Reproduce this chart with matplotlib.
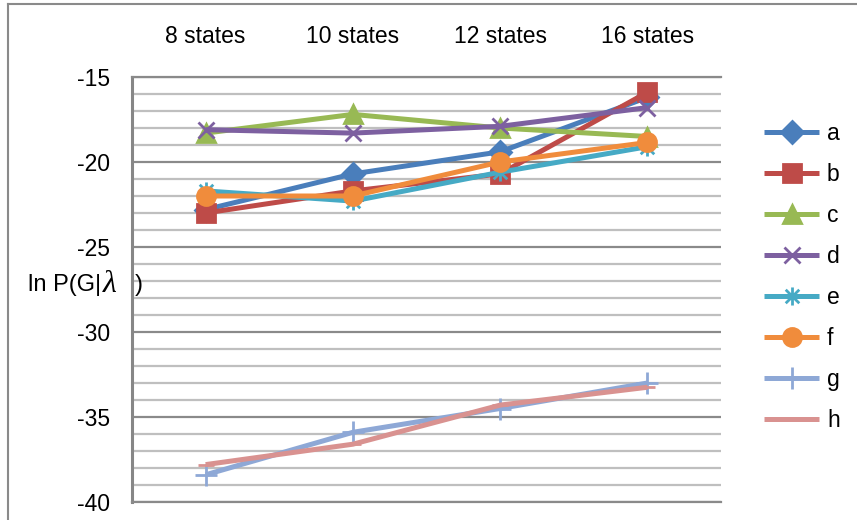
import matplotlib
matplotlib.use("Agg")
import matplotlib.pyplot as plt
from matplotlib.path import Path
from matplotlib.lines import Line2D

plt.rcParams['font.family'] = ['Liberation Sans', 'DejaVu Sans']
plt.rcParams['axes.unicode_minus'] = False

# data
states = ["8 states", "10 states", "12 states", "16 states"]
names = ["a", "b", "c", "d", "e", "f", "g", "h"]
a = [-22.8, -20.7, -19.4, -16.2]
b = [-23.0, -21.7, -20.7, -15.9]
c = [-18.3, -17.2, -18.0, -18.5]
d = [-18.1, -18.3, -17.9, -16.8]
e = [-21.7, -22.3, -20.6, -19.1]
f = [-22.0, -22.0, -20.0, -18.85]
g = [-38.4, -35.9, -34.5, -33.0]
h = [-37.8, -36.6, -34.3, -33.25]
series = [a, b, c, d, e, f, g, h]

# excel-ish style
colors = ["#4A7EBB", "#BE4B48", "#98B954", "#7D60A0",
          "#46AAC5", "#F08C3C", "#8EA8D6", "#D99290"]
star = Path([(0, -1), (0, 1), (-0.75, -0.75), (0.75, 0.75),
             (-0.75, 0.75), (0.75, -0.75)],
            [Path.MOVETO, Path.LINETO] * 3)
markers = ["D", "s", "^", "x", star, "o", "+", "_"]
msizes = [11, 13, 13, 12, 13, 13, 16, 12]

fig = plt.figure(figsize=(8.57, 5.2), dpi=100)
ax = fig.add_axes([132 / 857, 1 - 502 / 520, 589 / 857, 425 / 520])

x = list(range(len(states)))
for i in range(len(series)):
    ax.plot(x, series[i], color=colors[i], lw=3.6, marker=markers[i],
            ms=msizes[i], mew=2, mfc=colors[i], mec=colors[i],
            label=names[i], solid_capstyle='butt')

ax.set_xlim(-0.5, 3.5)
ax.set_ylim(-40, -15)
ax.set_xticks(x)
ax.set_xticklabels(states)
ax.xaxis.tick_top()
ax.tick_params(axis='x', length=0, pad=21, labelsize=16.5)
ax.set_yticks(range(-40, -14, 5))
ax.set_yticks(range(-40, -14, 1), minor=True)
ax.tick_params(axis='y', which='both', length=0, pad=16, labelsize=16.5)
ax.grid(axis='y', which='major', color='#8A8A8A', lw=1.6)
ax.grid(axis='y', which='minor', color='#BFBFBF', lw=1.6)
ax.set_axisbelow(True)

ax.spines['right'].set_visible(False)
for s in ['top', 'bottom']:
    ax.spines[s].set_color('#8A8A8A')
    ax.spines[s].set_linewidth(1.6)
ax.spines['left'].set_color('#868686')
ax.spines['left'].set_linewidth(2.2)

ax.legend(loc='center left', bbox_to_anchor=(764 / 857, 1 - 277 / 520),
          bbox_transform=fig.transFigure, frameon=False, fontsize=16.5,
          borderaxespad=0, borderpad=0, handlelength=2.4,
          handletextpad=0.35, labelspacing=0.78)

# y label: "ln P(G|λ )" placed horizontally across the left spine
fig.text(28 / 857, 1 - 285 / 520, "ln P(G|", fontsize=17,
         ha='left', va='center')
fig.text(103 / 857, 1 - 285 / 520, "\u03bb", fontsize=23,
         family='Liberation Serif', style='italic', ha='left', va='center')
fig.text(135 / 857, 1 - 285 / 520, ")", fontsize=17,
         ha='left', va='center')

# outer chart border
fig.add_artist(Line2D([8 / 857, 8 / 857], [0, 1 - 4 / 520],
                      transform=fig.transFigure, color='#8A8A8A', lw=1.5))
fig.add_artist(Line2D([8 / 857, 1], [1 - 4 / 520, 1 - 4 / 520],
                      transform=fig.transFigure, color='#8A8A8A', lw=1.5))

plt.savefig("out.png", dpi=100)
